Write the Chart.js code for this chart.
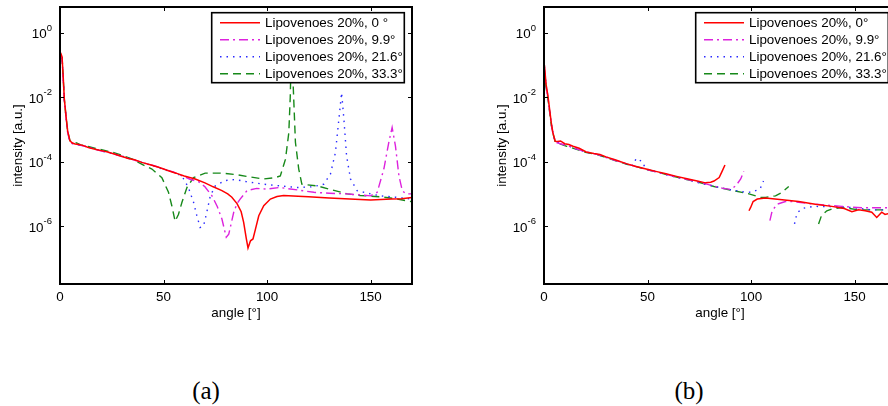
<!DOCTYPE html>
<html>
<head>
<meta charset="utf-8">
<script src="https://cdn.jsdelivr.net/npm/chart.js@4.4.1/dist/chart.umd.min.js"></script>
<style>
  html, body { margin: 0; padding: 0; background: #fff; }
  body { width: 888px; height: 406px; overflow: hidden; position: relative; }
  .panel { position: absolute; top: 0; width: 440px; height: 330px; }
  .caption { position: absolute; top: 375px; line-height: 32px; font-family: "Liberation Serif", "Times New Roman", serif; font-size: 25px; color: #000; transform: translateX(-50%); }
</style>
</head>
<body>
<div class="panel" style="left:0"><canvas id="chartA"></canvas></div>
<div class="panel" style="left:484px"><canvas id="chartB"></canvas></div>
<div class="caption" style="left:206px">(a)</div>
<div class="caption" style="left:689px">(b)</div>
<script>
// axis ticks
const xTicks = [0, 50, 100, 150];
const yTicks = [1, 1e-2, 1e-4, 1e-6];
const yTickExp = ['0', '-2', '-4', '-6'];

// legend labels
const labelsA = ['Lipovenoes 20%, 0 °', 'Lipovenoes 20%, 9.9°', 'Lipovenoes 20%, 21.6°', 'Lipovenoes 20%, 33.3°'];
const labelsB = ['Lipovenoes 20%, 0°', 'Lipovenoes 20%, 9.9°', 'Lipovenoes 20%, 21.6°', 'Lipovenoes 20%, 33.3°'];

// (a) 0 deg
const angA0 = [0.3, 1, 1.5, 2.1, 2.9, 3.7, 4.8, 6, 7.3, 9, 11, 13.7, 16, 18, 20, 23, 26.6, 30, 33, 36, 39.5, 44, 48, 52.4, 56, 60, 65.3, 70, 74, 78.2, 81, 83, 85.5, 87.5, 88.7, 90, 90.8, 92, 93.2, 94.4, 96, 98.4, 101.6, 104.8, 108, 115, 120, 130, 140, 150, 160, 165, 170];
const intA0 = [0.24, 0.178, 0.05, 8.7e-3, 2.6e-3, 8.9e-4, 4.4e-4, 3.8e-4, 3.55e-4, 3.4e-4, 3.2e-4, 2.75e-4, 2.5e-4, 2.35e-4, 2.2e-4, 2.0e-4, 1.7e-4, 1.45e-4, 1.26e-4, 1.15e-4, 9.5e-5, 7.9e-5, 6.6e-5, 5.2e-5, 4.4e-5, 3.6e-5, 2.9e-5, 2.2e-5, 1.66e-5, 1.26e-5, 1.0e-5, 7.9e-6, 5.0e-6, 2.8e-6, 1.3e-6, 4.0e-7, 2.1e-7, 3.5e-7, 4.0e-7, 8.1e-7, 2.1e-6, 4.3e-6, 6.9e-6, 8.3e-6, 8.9e-6, 8.5e-6, 8.1e-6, 7.4e-6, 6.9e-6, 6.5e-6, 6.9e-6, 7.1e-6, 7.8e-6];

// (a) 9.9 deg
const angA1 = [0.3, 1, 1.5, 2.1, 2.9, 3.7, 4.8, 6, 8, 10, 13, 16, 20, 24, 28, 32, 36, 40, 45, 50, 55, 60, 63, 66.9, 70, 73.4, 76, 78.2, 80.3, 81.5, 83.9, 85.5, 87, 90.3, 95, 100, 106, 115, 122.6, 130, 138.7, 145, 150, 153.2, 156.4, 158.8, 160.4, 162, 163.7, 165.3, 167, 170];
const intA1 = [0.2, 0.158, 0.04, 7.9e-3, 2.5e-3, 7.9e-4, 4.2e-4, 3.6e-4, 3.5e-4, 3.2e-4, 2.9e-4, 2.5e-4, 2.15e-4, 1.9e-4, 1.58e-4, 1.32e-4, 1.12e-4, 9.3e-5, 7.6e-5, 6.0e-5, 4.7e-5, 3.4e-5, 2.8e-5, 2.4e-5, 1.66e-5, 8.7e-6, 4.0e-6, 1.66e-6, 4.5e-7, 5.6e-7, 2.7e-6, 5.0e-6, 6.9e-6, 1.26e-5, 1.48e-5, 1.41e-5, 1.58e-5, 1.32e-5, 1.12e-5, 1.05e-5, 1.0e-5, 9.3e-6, 8.7e-6, 1.12e-5, 5.9e-5, 4.0e-4, 1.15e-3, 3.1e-4, 3.6e-5, 1.26e-5, 1.0e-5, 1.0e-5];

// (a) 21.6 deg
const angA2 = [0.3, 1, 1.5, 2.1, 2.9, 3.7, 4.8, 6, 9, 12, 16, 20, 25, 30, 35, 40, 45, 50, 55, 58.9, 62, 64.5, 66.1, 67.7, 69.3, 70.9, 72.6, 75, 79.8, 84.7, 90, 98.4, 106, 114.5, 122, 127.4, 130.6, 133, 134.7, 136, 137.1, 138.4, 140.3, 143.5, 150, 154.8, 162, 170];
const intA2 = [0.22, 0.158, 0.045, 7.9e-3, 2.5e-3, 8.3e-4, 4.3e-4, 3.7e-4, 3.3e-4, 3.0e-4, 2.6e-4, 2.15e-4, 1.82e-4, 1.48e-4, 1.17e-4, 9.3e-5, 7.4e-5, 5.8e-5, 4.6e-5, 3.6e-5, 1.58e-5, 5.5e-6, 2.1e-6, 9.1e-7, 1.0e-6, 2.7e-6, 8.7e-6, 1.78e-5, 2.6e-5, 2.8e-5, 2.4e-5, 2.0e-5, 1.78e-5, 1.58e-5, 1.66e-5, 2.0e-5, 4.1e-5, 1.9e-4, 2.1e-3, 0.0138, 2.1e-3, 1.51e-4, 2.9e-5, 1.26e-5, 1.0e-5, 8.7e-6, 7.9e-6, 6.9e-6];

// (a) 33.3 deg
const angA3 = [0.3, 1, 1.5, 2.1, 2.9, 3.7, 4.8, 6, 8, 10, 14, 18, 22, 26, 30, 35, 41.1, 44.4, 49.2, 52.4, 54, 55.6, 57.2, 58.9, 61.3, 64.5, 70.1, 78.2, 84.7, 90, 98.4, 104, 106.4, 108.9, 110.5, 111.2, 111.8, 112.6, 113.7, 115.3, 116.8, 124, 130, 138.7, 145, 154.8, 162, 169.3, 170];
const intA3 = [0.158, 0.166, 0.045, 8.3e-3, 2.5e-3, 8.7e-4, 4.5e-4, 4.0e-4, 3.8e-4, 3.3e-4, 2.9e-4, 2.5e-4, 2.2e-4, 1.9e-4, 1.58e-4, 1.2e-4, 7.4e-5, 5.9e-5, 3.2e-5, 1.12e-5, 4.3e-6, 1.41e-6, 2.3e-6, 5.5e-6, 1.58e-5, 3.2e-5, 4.4e-5, 4.4e-5, 4.0e-5, 3.5e-5, 2.9e-5, 3.2e-5, 3.6e-5, 1.2e-4, 7.9e-4, 0.01, 0.5, 0.025, 4.0e-4, 5.9e-5, 2.0e-5, 1.78e-5, 1.41e-5, 1.0e-5, 8.9e-6, 8.1e-6, 7.1e-6, 5.8e-6, 6.0e-6];

// (b) 0 deg, gap where the curve leaves the axes
const angB0 = [0.2, 1, 1.9, 3.5, 4.3, 5.4, 6.5, 8, 10, 12, 14, 17, 20.4, 24, 27, 30, 35, 39.7, 44, 49.3, 54, 58.9, 64, 68.5, 74, 78, 80.5, 82.1, 84.6, 86, 87.4, 93, 99, 99.8, 101, 103, 107, 115, 123, 131, 139, 145, 148.7, 151.9, 155.1, 158.3, 160.7, 163.1, 164.7, 167, 170];
const intB0 = [0.1, 0.025, 0.011, 1.62e-3, 7.9e-4, 4.3e-4, 4.2e-4, 4.4e-4, 3.6e-4, 3.4e-4, 3.0e-4, 2.6e-4, 2.0e-4, 1.78e-4, 1.66e-4, 1.41e-4, 1.1e-4, 8.7e-5, 7.2e-5, 5.9e-5, 5.0e-5, 4.2e-5, 3.5e-5, 3.0e-5, 2.5e-5, 2.2e-5, 2.3e-5, 2.5e-5, 3.2e-5, 5.0e-5, 7.9e-5, null, 3.0e-6, 3.8e-6, 5.8e-6, 6.9e-6, 7.4e-6, 6.6e-6, 5.8e-6, 4.8e-6, 4.1e-6, 3.5e-6, 2.8e-6, 3.2e-6, 3.0e-6, 2.7e-6, 1.86e-6, 2.7e-6, 2.3e-6, 2.5e-6, 2.2e-6];

// (b) 9.9 deg
const angB1 = [0.2, 1, 1.9, 3.5, 4.3, 5.5, 8, 11, 15, 20, 25, 30, 35, 40, 45, 50, 55, 60, 65, 70, 75, 80, 86, 90, 92, 93.2, 95, 96.5, 103, 109.1, 110.2, 112.6, 116.6, 119.8, 128, 135.9, 143.9, 153.5, 163.1, 170];
const intB1 = [0.079, 0.022, 0.01, 1.41e-3, 7.6e-4, 4.0e-4, 3.6e-4, 3.2e-4, 2.6e-4, 2.0e-4, 1.74e-4, 1.35e-4, 1.07e-4, 8.5e-5, 6.9e-5, 5.6e-5, 4.7e-5, 3.9e-5, 3.2e-5, 2.75e-5, 2.3e-5, 1.9e-5, 1.51e-5, 1.38e-5, 1.66e-5, 2.0e-5, 2.9e-5, 5.0e-5, null, 1.48e-6, 3.0e-6, 4.8e-6, 5.8e-6, 5.8e-6, 5.0e-6, 4.5e-6, 4.1e-6, 3.7e-6, 3.7e-6, 3.7e-6];

// (b) 21.6 deg
const angB2 = [0.2, 1, 1.9, 3.5, 4.3, 5.5, 8, 11, 15, 20, 25, 30, 35, 40, 43, 44.5, 46, 47.6, 49, 55, 60, 65, 70, 75, 80, 86, 90, 95.6, 100, 102.2, 104.3, 106, 114, 121, 121.5, 122.6, 124.6, 127, 130.3, 140, 148.7, 158.3, 170];
const intB2 = [0.089, 0.024, 0.0105, 1.51e-3, 7.9e-4, 4.2e-4, 3.7e-4, 3.2e-4, 2.6e-4, 2.0e-4, 1.74e-4, 1.38e-4, 1.1e-4, 8.5e-5, 7.6e-5, 1.26e-4, 1.12e-4, 1.0e-4, 6.0e-5, 4.7e-5, 3.8e-5, 3.2e-5, 2.7e-5, 2.2e-5, 1.86e-5, 1.51e-5, 1.35e-5, 1.17e-5, 1.12e-5, 1.26e-5, 1.41e-5, 2.5e-5, null, 1.17e-6, 1.74e-6, 2.7e-6, 3.5e-6, 3.8e-6, 4.1e-6, 4.0e-6, 3.8e-6, 3.2e-6, 3.2e-6];

// (b) 33.3 deg
const angB3 = [0.2, 1, 1.9, 3.5, 4.3, 5.5, 8, 11, 15, 20, 25, 30, 35, 40, 45, 50, 55, 60, 65, 70, 74.8, 82.1, 89.4, 99, 104.6, 107, 111.8, 115, 118.2, 125, 132.6, 134, 136.6, 139, 143.9, 152, 161.5, 170];
const intB3 = [0.071, 0.02, 8.9e-3, 1.41e-3, 7.6e-4, 4.0e-4, 3.5e-4, 3.0e-4, 2.5e-4, 1.95e-4, 1.7e-4, 1.35e-4, 1.05e-4, 8.3e-5, 6.9e-5, 5.6e-5, 4.7e-5, 3.8e-5, 3.2e-5, 2.7e-5, 2.3e-5, 1.7e-5, 1.35e-5, 1.0e-5, 7.8e-6, 7.8e-6, 8.7e-6, 1.12e-5, 1.7e-5, null, 1.17e-6, 2.1e-6, 3.0e-6, 3.4e-6, 3.8e-6, 3.2e-6, 3.2e-6, 3.2e-6];

const FONT = '"Liberation Sans", Arial, Helvetica, sans-serif';

// line styles: solid red, dash-dot magenta, dotted blue, dashed green
const styles = [
    { color: '#ff0000', dash: [], width: 1.5 },
    { color: '#dd22dd', dash: [9, 4, 2, 4], width: 1.4 },
    { color: '#2a2aff', dash: [1.5, 5], width: 1.4 },
    { color: '#17891a', dash: [8, 5], width: 1.4 }
];

function toPoints(xs, ys) {
    return xs.map((x, i) => ({ x: x, y: ys[i] }));
}

function makeDatasets(series, labels) {
    return series.map((s, i) => ({
        label: labels[i],
        data: toPoints(s[0], s[1]),
        borderColor: styles[i].color,
        borderDash: styles[i].dash,
        borderWidth: styles[i].width,
        pointRadius: 0,
        tension: 0,
        spanGaps: false,
        fill: false
    }));
}

// frame, inward ticks, tick labels, axis titles and the boxed legend
const matlabAxes = {
    id: 'matlabAxes',
    afterDatasetsDraw(chart) {
        const ctx = chart.ctx;
        const a = chart.chartArea;
        const xs = chart.scales.x, ys = chart.scales.y;
        ctx.save();

        // legend box
        const bw = 192.6, bh = 70;
        const bx = a.right - 7.7 - bw, by = a.top + 5.7;
        ctx.fillStyle = '#fff';
        ctx.fillRect(bx, by, bw, bh);
        ctx.strokeStyle = '#000';
        ctx.lineWidth = 1.6;
        ctx.setLineDash([]);
        ctx.strokeRect(bx, by, bw, bh);
        const rows = [10, 27, 44, 61];
        ctx.font = '13.4px ' + FONT;
        ctx.textBaseline = 'middle';
        ctx.textAlign = 'left';
        chart.data.datasets.forEach((ds, i) => {
            const yy = by + rows[i];
            ctx.strokeStyle = ds.borderColor;
            ctx.lineWidth = 1.4;
            ctx.setLineDash(ds.borderDash);
            ctx.beginPath();
            ctx.moveTo(bx + 8.3, yy);
            ctx.lineTo(bx + 48.3, yy);
            ctx.stroke();
            ctx.fillStyle = '#000';
            ctx.fillText(ds.label, bx + 53.3, yy + 0.5);
        });
        ctx.setLineDash([]);

        // axes frame
        ctx.strokeStyle = '#000';
        ctx.lineWidth = 2;
        ctx.strokeRect(a.left, a.top, a.right - a.left, a.bottom - a.top);

        // ticks on all four sides, pointing inward
        ctx.lineWidth = 1;
        ctx.beginPath();
        xTicks.forEach(v => {
            const px = Math.round(xs.getPixelForValue(v)) + 0.5;
            ctx.moveTo(px, a.bottom); ctx.lineTo(px, a.bottom - 4);
            ctx.moveTo(px, a.top); ctx.lineTo(px, a.top + 4);
        });
        yTicks.forEach(v => {
            const py = Math.round(ys.getPixelForValue(v)) + 0.5;
            ctx.moveTo(a.left, py); ctx.lineTo(a.left + 4, py);
            ctx.moveTo(a.right, py); ctx.lineTo(a.right - 4, py);
        });
        ctx.stroke();

        // x tick labels
        ctx.fillStyle = '#000';
        ctx.font = '13.4px ' + FONT;
        ctx.textAlign = 'center';
        ctx.textBaseline = 'middle';
        xTicks.forEach(v => {
            ctx.fillText(String(v), xs.getPixelForValue(v), a.bottom + 13);
        });

        // y tick labels as 10 with a raised exponent
        yTicks.forEach((v, i) => {
            const py = ys.getPixelForValue(v);
            ctx.font = '9.5px ' + FONT;
            const we = ctx.measureText(yTickExp[i]).width;
            const right = a.left - 8;
            ctx.textAlign = 'left';
            ctx.fillText(yTickExp[i], right - we, py - 4.5);
            ctx.font = '13.4px ' + FONT;
            ctx.textAlign = 'right';
            ctx.fillText('10', right - we, py + 2);
        });

        // axis titles
        ctx.font = '13.4px ' + FONT;
        ctx.textAlign = 'center';
        ctx.fillText('angle [°]', (a.left + a.right) / 2, a.bottom + 29);
        ctx.translate(18.5, (a.top + a.bottom) / 2);
        ctx.rotate(-Math.PI / 2);
        ctx.fillText('intensity [a.u.]', 0, 0);
        ctx.restore();
    }
};

function makeChart(id, series, labels) {
    return new Chart(document.getElementById(id), {
        type: 'line',
        data: { datasets: makeDatasets(series, labels) },
        options: {
            responsive: true,
            maintainAspectRatio: false,
            animation: false,
            events: [],
            layout: { padding: { top: 7, right: 28, left: 0, bottom: 0 } },
            plugins: {
                legend: { display: false },
                tooltip: { enabled: false },
                title: { display: false }
            },
            scales: {
                x: {
                    type: 'linear',
                    min: 0,
                    max: 170,
                    grid: { display: false },
                    border: { display: false },
                    ticks: { display: false },
                    afterFit: s => { s.height = 46; }
                },
                y: {
                    type: 'logarithmic',
                    min: 1.6e-8,
                    max: 6.3,
                    grid: { display: false },
                    border: { display: false },
                    ticks: { display: false },
                    afterFit: s => { s.width = 60; }
                }
            }
        },
        plugins: [matlabAxes]
    });
}

makeChart('chartA', [[angA0, intA0], [angA1, intA1], [angA2, intA2], [angA3, intA3]], labelsA);
makeChart('chartB', [[angB0, intB0], [angB1, intB1], [angB2, intB2], [angB3, intB3]], labelsB);
</script>
</body>
</html>
